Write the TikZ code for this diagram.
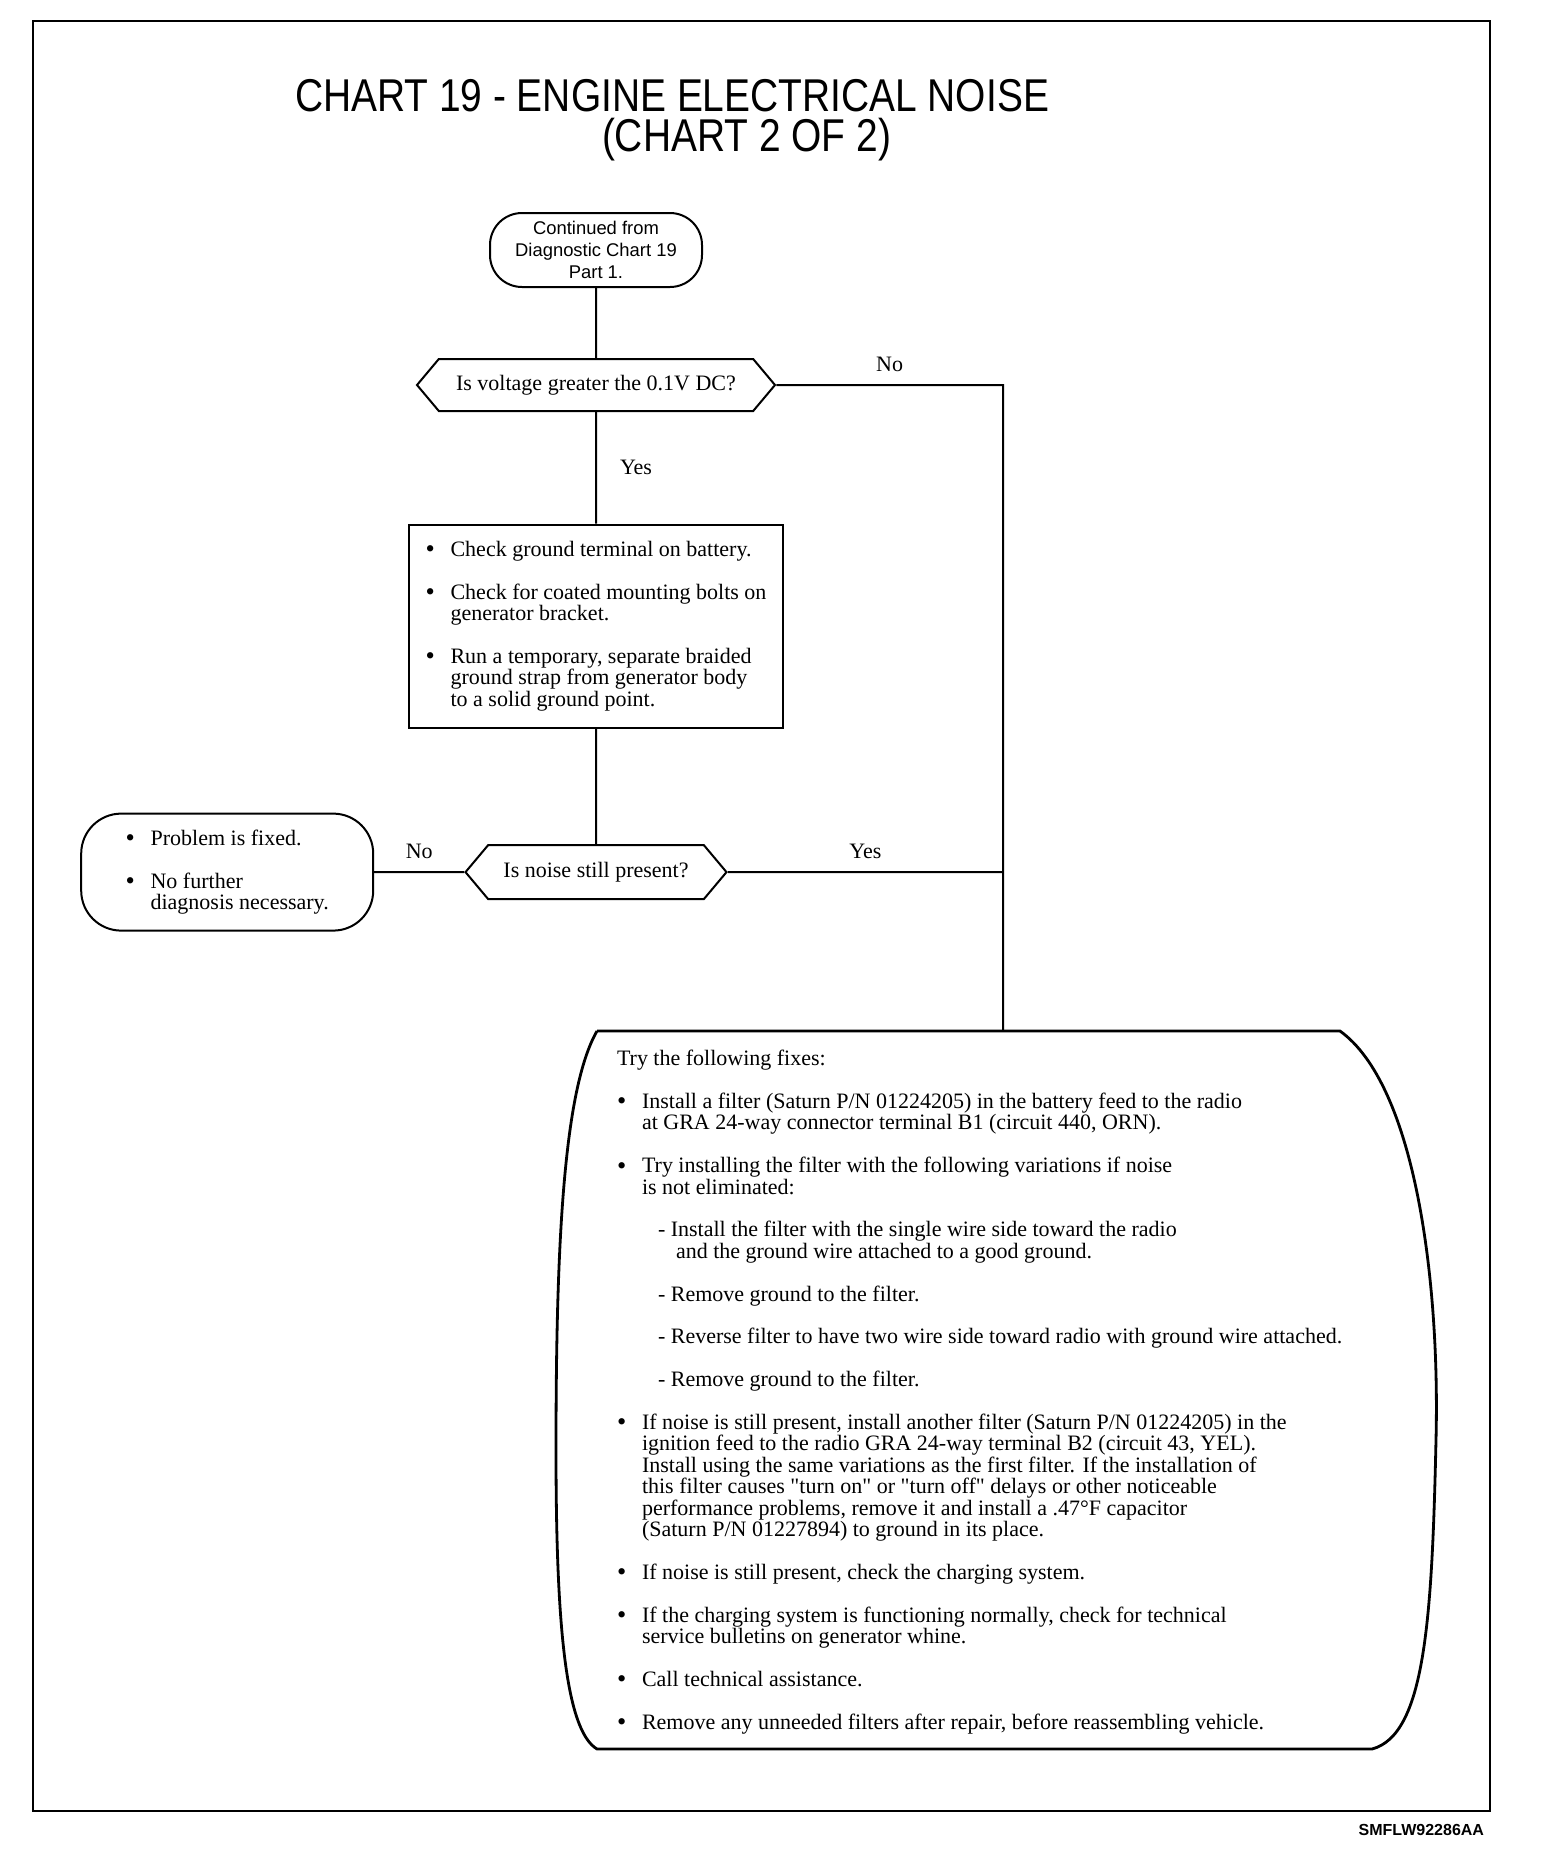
\documentclass[tikz,border=0pt]{standalone}
\usepackage{fontspec}
\setmainfont{Liberation Serif}
\setsansfont{Liberation Sans}
\usepackage{graphicx}
\usepackage{tikz}
\usetikzlibrary{positioning,shapes.symbols}
\newcommand{\blt}{\makebox[12.5pt][l]{\raisebox{-0.7pt}{\scalebox{1.2}{\textbullet}}}}
\newcommand{\bind}{\hspace*{12.5pt}}
\newcommand{\dsh}{\hspace*{20.5pt}}
\newcommand{\dsi}{\hspace*{29.5pt}}
\newcommand{\gap}{\\[10.7pt]}
\newcommand{\qt}[1]{\textquotedbl#1\textquotedbl}

\begin{document}
\begin{tikzpicture}[
x=0.5pt, y=-0.5pt,
line width=1pt,
font=\fontsize{11}{10.7}\selectfont,
termbox/.style={draw, rounded corners=16pt, align=center, inner sep=2pt},
decbox/.style={draw, signal, signal to=east and west, signal pointer angle=100, inner sep=2pt},
stepbox/.style={draw, align=left, inner sep=0pt},
lbl/.style={inner sep=2pt},
titletext/.style={font=\sffamily\fontsize{23}{27}\selectfont, anchor=base west, inner sep=0pt}
]
\useasboundingbox (0,0) rectangle (1568,1854);

% --- Frame and title ---
\draw (33,21) rectangle (1490,1811);
\node (title) [titletext] at (294,111) {\scalebox{0.846}[1]{CHART 19 - ENGINE ELECTRICAL NOISE}};
\node (subtitle) [titletext] at (601,151) {\scalebox{0.846}[1]{(CHART 2 OF 2)}};

% --- Main column ---
\node (start) [termbox, font=\sffamily\fontsize{9.2}{11}\selectfont, minimum width=106pt, minimum height=37pt] at (596,250) {Continued from\\Diagnostic Chart 19\\Part 1.};
\node (volt) [decbox, minimum width=179pt, minimum height=26pt, below=35pt of start] {Is voltage greater the 0.1V DC?};
\node (ground) [stepbox, minimum width=187pt, minimum height=101.5pt, below=55.75pt of volt] {\blt Check ground terminal on battery.\gap
\blt Check for coated mounting bolts on\\
\bind generator bracket.\gap
\blt Run a temporary, separate braided\\
\bind ground strap from generator body\\
\bind to a solid ground point.};
\node (noise) [decbox, minimum width=130.5pt, minimum height=27pt, below=57.8pt of ground] {Is noise still present?};
\node (fixed) [termbox, rounded corners=20pt, align=left, minimum width=146pt, minimum height=58.5pt, left=45pt of noise] {\blt Problem is fixed.\gap
\blt No further\\
\bind diagnosis necessary.};

% --- Fixes box ---
\coordinate (fixtop) at (1003,1031);
\draw[line width=1.4pt] (597,1031) -- (1340,1031) .. controls (1415,1085) and (1440,1280) .. (1436,1440) .. controls (1432,1620) and (1425,1735) .. (1372,1749) -- (597,1749) .. controls (565,1730) and (556,1620) .. (556,1450) .. controls (556,1250) and (563,1090) .. (597,1031);
\node (fix) [align=left, inner sep=0pt, anchor=west] at (616,1392) {Try the following fixes:\gap
\blt Install a filter (Saturn P/N 01224205) in the battery feed to the radio\\
\bind at GRA 24-way connector terminal B1 (circuit 440, ORN).\gap
\blt Try installing the filter with the following variations if noise\\
\bind is not eliminated:\gap
\dsh - Install the filter with the single wire side toward the radio\\
\dsi and the ground wire attached to a good ground.\gap
\dsh - Remove ground to the filter.\gap
\dsh - Reverse filter to have two wire side toward radio with ground wire attached.\gap
\dsh - Remove ground to the filter.\gap
\blt If noise is still present, install another filter (Saturn P/N 01224205) in the\\
\bind ignition feed to the radio GRA 24-way terminal B2 (circuit 43, YEL).\\
\bind Install using the same variations as the first filter. If the installation of\\
\bind this filter causes \qt{turn on} or \qt{turn off} delays or other noticeable\\
\bind performance problems, remove it and install a .47°F capacitor\\
\bind (Saturn P/N 01227894) to ground in its place.\gap
\blt If noise is still present, check the charging system.\gap
\blt If the charging system is functioning normally, check for technical\\
\bind service bulletins on generator whine.\gap
\blt Call technical assistance.\gap
\blt Remove any unneeded filters after repair, before reassembling vehicle.};

% --- Connectors ---
\draw (start) -- (volt);
\draw (volt) -- node [lbl, right=9.5pt] {Yes} (ground);
\draw (ground) -- (noise);
\draw (noise) -- node [lbl, above=4pt] {No} (fixed);
\draw (volt) -- node [lbl, above=4pt] {No} (volt -| fixtop) -- (fixtop);
\draw (noise) -- node [lbl, above=4pt] {Yes} (noise -| fixtop);

\node (code) [font=\sffamily\bfseries\fontsize{8}{9}\selectfont, anchor=east, inner sep=0pt] at (1485,1830) {SMFLW92286AA};
\end{tikzpicture}
\end{document}
